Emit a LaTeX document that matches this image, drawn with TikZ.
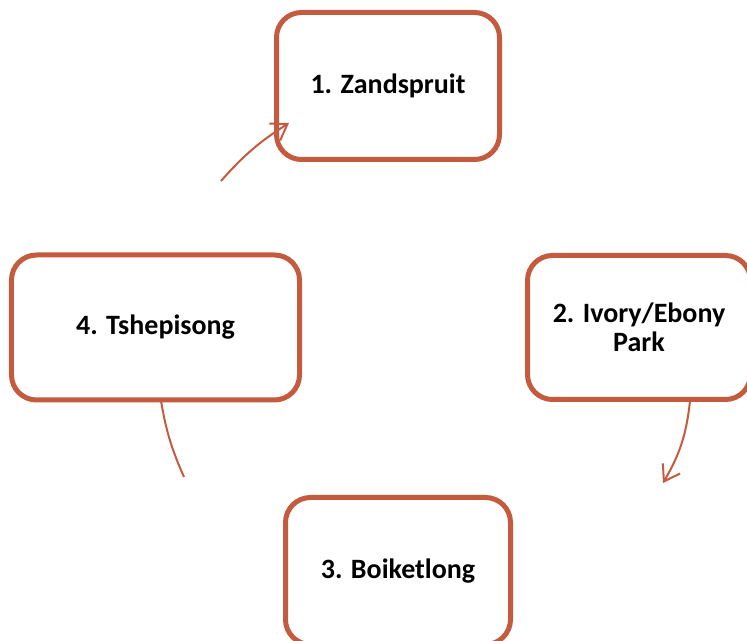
\documentclass[tikz,border=0pt]{standalone}
\usepackage{fontspec}
\setmainfont{Carlito}
\usetikzlibrary{arrows.meta}
\definecolor{rust}{RGB}{196,90,62}
\begin{document}
\begin{tikzpicture}[x=1bp,y=1bp,
  place/.style={draw=rust, line width=5bp, fill=white, rounded corners=25bp,
    font=\bfseries\fontsize{28bp}{29bp}\selectfont, align=center, inner sep=0pt},
  link/.style={draw=rust, line width=2bp},
  linkhead/.style={link, -{Straight Barb[length=15bp,width=20bp,line width=2bp]}}]
\useasboundingbox (0,0) rectangle (747,641);
\node[place, minimum width=223bp, minimum height=147bp] (z1) at (388,555) {1. Zandspruit};
\node[place, minimum width=223bp, minimum height=144bp] (z2) at (639,313.5) {2. Ivory/Ebony\\Park};
\node[place, minimum width=225bp, minimum height=147bp] (z3) at (398,70) {3. Boiketlong};
\node[place, minimum width=288bp, minimum height=145bp] (z4) at (155.5,313.5) {4. Tshepisong};
\coordinate (a1s) at (221,460);
\coordinate (a1e) at (289,518);
\coordinate (b1s) at (690,240);
\coordinate (b1e) at (663,158);
\coordinate (c1s) at (161,240);
\coordinate (c1e) at (184,164);
\draw[linkhead] (a1s) to[bend left=8] (a1e);
\draw[linkhead] (b1s) to[bend left=12] (b1e);
\draw[link] (c1s) to[bend right=7] (c1e);
\end{tikzpicture}
\end{document}
